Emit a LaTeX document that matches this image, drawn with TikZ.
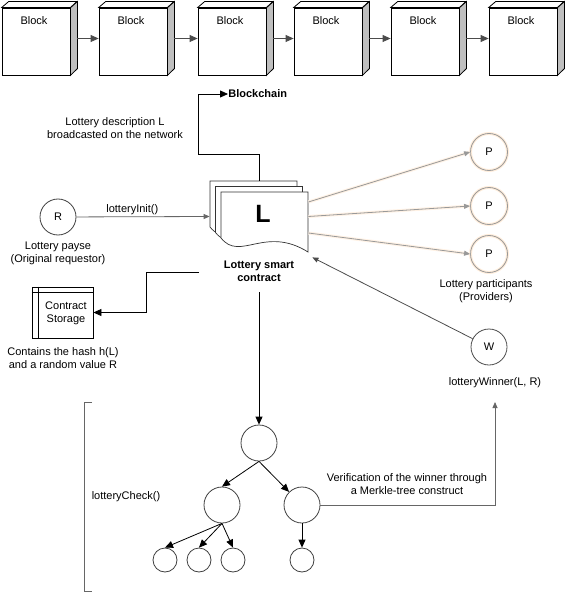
\documentclass[tikz,border=0pt]{standalone}
\usepackage{fontspec}
\setmainfont{Liberation Sans}
\usetikzlibrary{arrows.meta,calc}
\begin{document}
\begin{tikzpicture}[x=1pt,y=-1pt,
  font=\fontsize{11}{13}\selectfont,
  line width=0.8pt,
  blockface/.style={draw,fill=white,minimum width=68pt,minimum height=67pt,inner sep=0pt},
  arr/.style={draw=black,-{Triangle[length=8pt,width=7pt]}},
  grayarr/.style={draw=black!60,-{Triangle[length=6pt,width=5pt]}},
  darkarr/.style={draw=black!70,-{Triangle[length=6pt,width=5pt]}},
  parr/.style={draw=black!40,-{Triangle[length=6pt,width=5pt]},preaction={draw=orange!10,line width=3pt,arrows=-}},
  circ/.style={draw=black!75,circle,inner sep=0pt,minimum size=36pt},
  pcirc/.style={draw=black!40,circle,inner sep=0pt,minimum size=37pt,preaction={draw=orange!14,line width=3pt}},
  leaf/.style={draw=black!75,circle,inner sep=0pt,minimum size=24pt},
  docpage/.style={draw=black!80,fill=white,line width=0.7pt},
  txt/.style={align=center,inner sep=0pt}
]
\useasboundingbox (0,0) rectangle (566,596);

% blockchain
\foreach \i/\x in {1/2,2/99,3/198,4/294,5/391,6/489}{
  \node[blockface] (b\i) at (\x+34,41.5) {};
  \filldraw[fill=black!25,draw=black] (b\i.north east) -- ++(7,-6) -- ++(0,67) -- (b\i.south east) -- cycle;
  \filldraw[fill=white,draw=black] (b\i.north west) -- ++(7,-6) -- ++(68,0) -- (b\i.north east) -- cycle;
  \node[txt] at ([xshift=-2pt,yshift=-13pt]b\i.north) {Block};
}
\foreach \i/\j in {1/2,2/3,3/4,4/5,5/6}
  \draw[draw=black!70,-{Triangle[length=8pt,width=7pt]}] ([xshift=7pt,yshift=3pt]b\i.east) -- ([yshift=3pt]b\j.west);

% document stack
\foreach \o in {0,5.5,11}
  \filldraw[docpage,shift={(210+\o,181+\o)}] (0,0) -- (87,0) -- (87,60) .. controls (44,33) and (19,70) .. (0,46) -- cycle;
\node[minimum width=98pt,minimum height=71pt,inner sep=0pt] (doc) at (259,216.5) {};
\node[txt,font=\fontsize{25}{25}\bfseries\selectfont] (Lbl) at (263,214) {L};
\node[txt,font=\fontsize{11}{13}\bfseries\selectfont] (doccap) at (259,271.5) {Lottery smart\\contract};

\node[txt,font=\fontsize{11}{13}\bfseries\selectfont,anchor=west] (bc) at (228,94) {Blockchain};
\draw[arr] (doc.north) -- ++(0,-26) -- ++(-61,0) |- (bc.west);
\node[txt] (desc) at (115,128.5) {Lottery description L\\broadcasted on the network};

% requestor
\node[circ] (R) at (58,217) {R};
\node[txt] (Rcap) at (58,253) {Lottery payse\\(Original requestor)};
\draw[grayarr] (R) -- (doc.west) node[pos=0.42,above=0pt,inner sep=1.5pt,text=black] {lotteryInit()};

% contract storage
\node[draw,minimum width=61pt,minimum height=51pt,inner sep=0pt] (cs) at (62.5,312.5) {};
\draw ([yshift=-6pt]cs.north west) -- ([yshift=-6pt]cs.north east);
\draw ([xshift=7pt]cs.north west) -- ([xshift=7pt]cs.south west);
\node[txt] at (66,313.5) {Contract\\Storage};
\node[txt] (cscap) at (63,358.5) {Contains the hash h(L)\\and a random value R};
\coordinate (sst) at (199,272);
\draw[arr] (sst) -- ++(-53,0) |- (cs.east);

% participants
\node[pcirc] (p1) at (489,152) {P};
\node[pcirc] (p2) at (489,206) {P};
\node[pcirc] (p3) at (489,254) {P};
\draw[parr] ([yshift=14.5pt]doc.east) -- (p1.west);
\draw[parr] (doc.east) -- (p2.west);
\draw[parr] ([yshift=-16.5pt]doc.east) -- (p3.west);
\node[txt] (pcap) at (486,291) {Lottery participants\\(Providers)};

% winner
\node[circ,draw=black!70] (W) at (489,347) {W};
\node[txt] (wcap) at (495,383) {lotteryWinner(L, R)};
\draw[darkarr] (W) -- ([xshift=4pt,yshift=-5pt]doc.south east);

% merkle tree
\coordinate (dst) at (259,292);
\node[circ] (t0) at (259,443) {};
\node[circ] (t1) at (222,505) {};
\node[circ] (t2) at (302,505) {};
\node[leaf] (l1) at (165,560) {};
\node[leaf] (l2) at (199,560) {};
\node[leaf] (l3) at (233,560) {};
\node[leaf] (l4) at (302,560) {};
\draw[arr] (dst) -- (t0);
\draw[arr] (t0.south) -- (t1.north);
\draw[arr] (t0.south) -- (t2);
\draw[arr] (t1.south) -- (l1.north);
\draw[arr] (t1.south) -- (l2.north);
\draw[arr] (t1.south) -- (l3.north);
\draw[arr] (t2.south) -- (l4.north);

% bracket
\draw[draw=black!60] (92,402) -- (84,402) -- (84,591) -- (92,591);
\node[txt] (lc) at (126,497) {lotteryCheck()};

% verification
\coordinate (vend) at (495,402);
\draw[grayarr] (t2.east) -| (vend);
\node[txt] (vcap) at (407,484.5) {Verification of the winner through\\a Merkle-tree construct};
\end{tikzpicture}
\end{document}
